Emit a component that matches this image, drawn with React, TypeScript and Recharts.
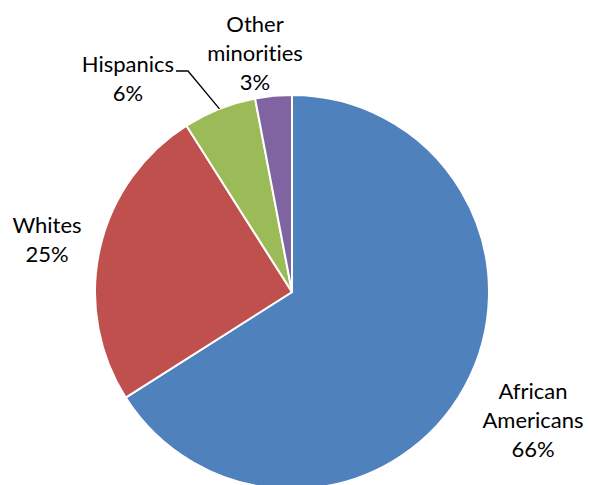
import { PieChart, Pie, Cell } from 'recharts';

const groups = ['African Americans', 'Whites', 'Hispanics', 'Other minorities'];
const shares = [66, 25, 6, 3];
const labelLines = [['African', 'Americans', '66%'], ['Whites', '25%'], ['Hispanics', '6%'], ['Other', 'minorities', '3%']];
const colors = ['#4F81BD', '#C0504D', '#9BBB59', '#8064A2'];

// label block placement relative to pie centre (first baseline, centred text)
const labelOffsets = [
  { dx: 241, dy: 107 },
  { dx: -245, dy: -59 },
  { dx: -164, dy: -220 },
  { dx: -37, dy: -260 },
];
const leaderFor = [false, false, true, false];

const data = groups.map((name, i) => ({ name, value: shares[i] }));

const FONT = 'Lato, "Open Sans", sans-serif';
const LINE_H = 29;
const RAD = Math.PI / 180;

const renderLabel = (props: any) => {
  const { cx, cy, midAngle, outerRadius, index } = props;
  const off = labelOffsets[index];
  const x = cx + off.dx;
  const y = cy + off.dy;
  const lines = labelLines[index];
  let leader = null;
  if (leaderFor[index]) {
    const sx = cx + outerRadius * Math.cos(-midAngle * RAD);
    const sy = cy + outerRadius * Math.sin(-midAngle * RAD);
    leader = (
      <polyline
        points={`${sx},${sy} ${x + 60},${y - 1} ${x + 48},${y - 1}`}
        fill="none"
        stroke="#000"
        strokeWidth={1.3}
      />
    );
  }
  return (
    <g key={`lbl-${index}`}>
      {leader}
      <text
        x={x}
        y={y}
        textAnchor="middle"
        fill="#000"
        style={{ fontFamily: FONT, fontSize: 22, fontVariantLigatures: 'none' }}
      >
        {lines.map((l, i) => (
          <tspan key={i} x={x} y={y + i * LINE_H}>{l}</tspan>
        ))}
      </text>
    </g>
  );
};

export default function App() {
  return (
    <div style={{ position: 'fixed', left: 0, top: 0, width: 589, height: 485, background: '#fff' }}>
      <PieChart width={589} height={485} margin={{ top: 0, right: 0, bottom: 0, left: 0 }}>
        <Pie
          data={data}
          dataKey="value"
          nameKey="name"
          cx={292}
          cy={292}
          outerRadius={197}
          startAngle={90}
          endAngle={-270}
          stroke="#fff"
          strokeWidth={2}
          label={renderLabel}
          labelLine={false}
          isAnimationActive={false}
        >
          {data.map((d, i) => (
            <Cell key={d.name} fill={colors[i]} />
          ))}
        </Pie>
      </PieChart>
    </div>
  );
}
